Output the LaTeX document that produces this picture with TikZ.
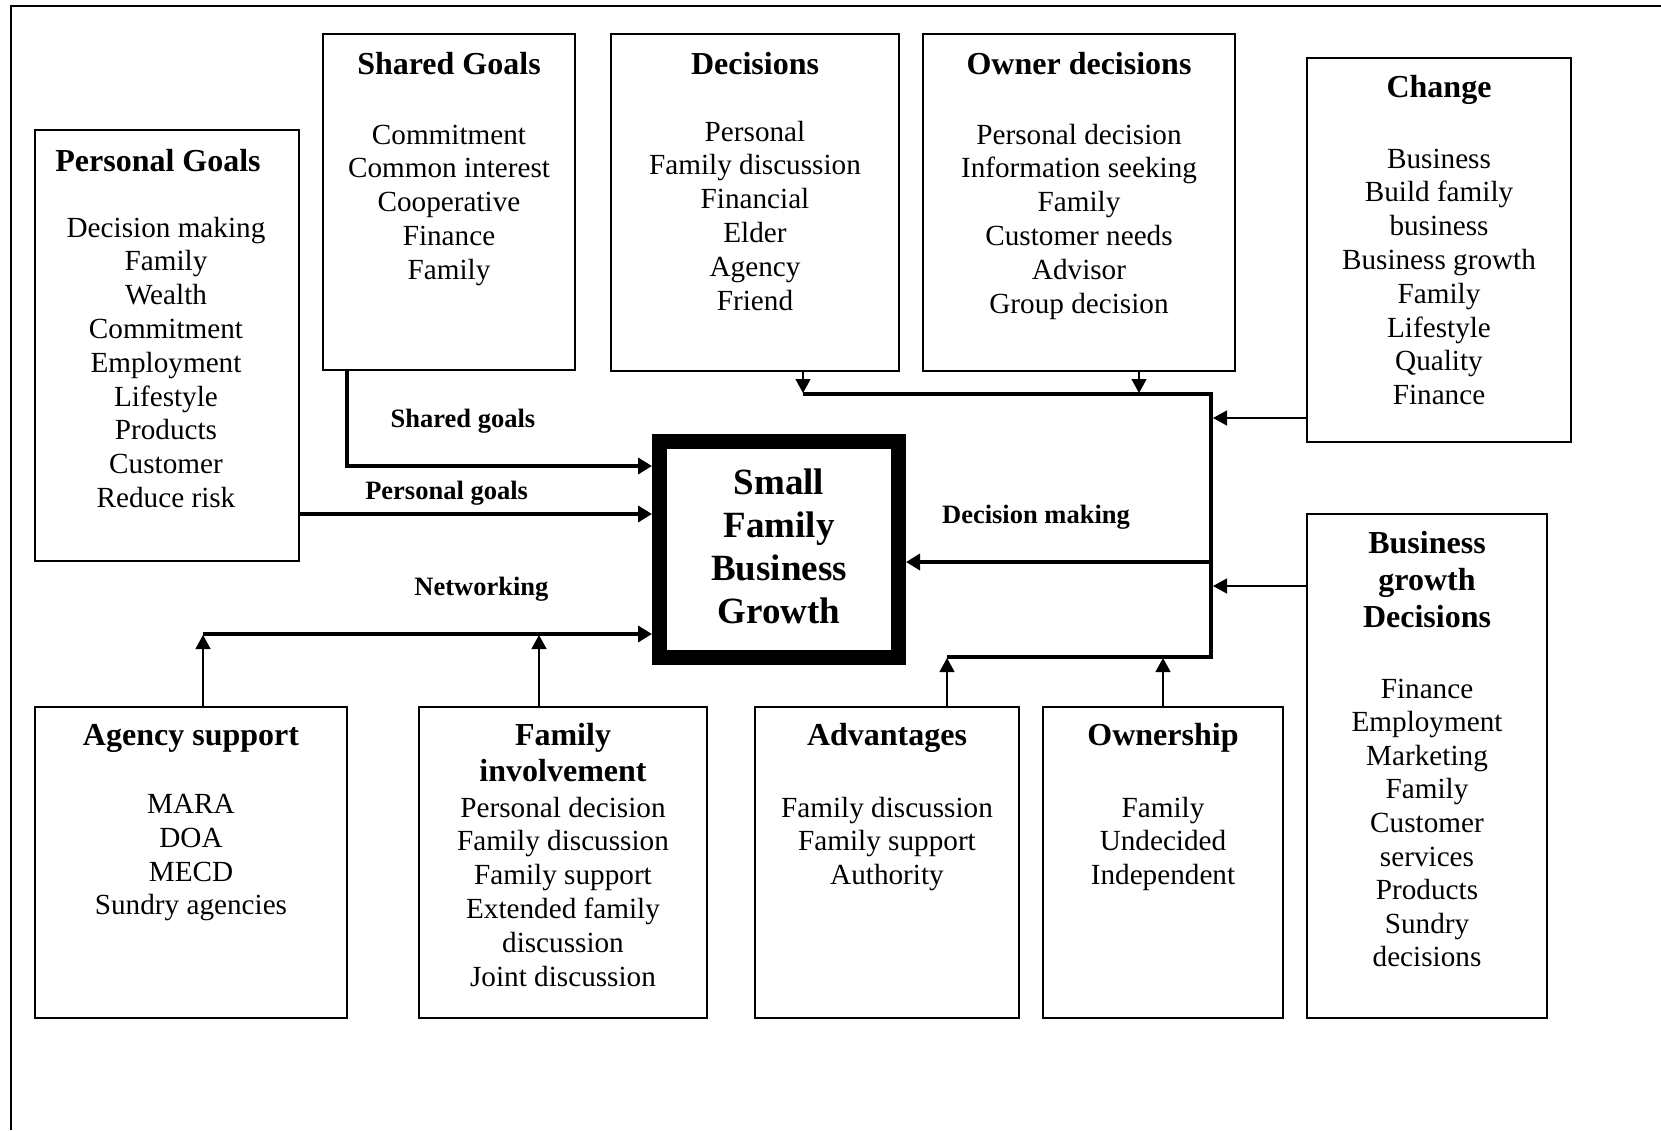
\documentclass[tikz,border=0pt]{standalone}
\usepackage{fontspec}
\setmainfont{Liberation Serif}
\usetikzlibrary{arrows.meta}
\begin{document}
\begin{tikzpicture}[x=1pt,y=-1pt,
  box/.style={draw, line width=2pt, inner sep=0pt},
  core/.style={draw, line width=15pt, inner sep=0pt},
  txt/.style={anchor=base, inner sep=0pt, font=\fontsize{29.2}{33.8}\selectfont},
  ttl/.style={anchor=base, inner sep=0pt, font=\bfseries\fontsize{32}{37}\selectfont},
  lbl/.style={anchor=base, inner sep=0pt, font=\bfseries\fontsize{26.5}{30}\selectfont},
  ctr/.style={anchor=base, inner sep=0pt, font=\bfseries\fontsize{37}{43}\selectfont},
  bus/.style={line width=4.5pt},
  busarr/.style={bus, -{Triangle[length=14pt,width=16pt]}},
  thinarr/.style={line width=1.3pt, -{Triangle[length=14pt,width=15pt]}},
  frame/.style={line width=1.7pt}]
\useasboundingbox (0,0) rectangle (1661,1130);
\draw[frame] (11,1130) -- (11,6) -- (1661,6);

% boxes
\node[box, minimum width=264pt, minimum height=431pt] (pg) at (167,345.5) {};
\node[box, minimum width=252pt, minimum height=336pt] (sg) at (449,202) {};
\node[box, minimum width=288pt, minimum height=337pt] (dec) at (755,202.5) {};
\node[box, minimum width=312pt, minimum height=337pt] (od) at (1079,202.5) {};
\node[box, minimum width=264pt, minimum height=384pt] (ch) at (1439,250) {};
\node[box, minimum width=240pt, minimum height=504pt] (bg) at (1427,766) {};
\node[box, minimum width=312pt, minimum height=311pt] (as) at (191,862.5) {};
\node[box, minimum width=288pt, minimum height=311pt] (fi) at (563,862.5) {};
\node[box, minimum width=264pt, minimum height=311pt] (adv) at (887,862.5) {};
\node[box, minimum width=240pt, minimum height=311pt] (own) at (1163,862.5) {};
\node[core, minimum width=239pt, minimum height=216pt] (cb) at (779,549.5) {};

% central text
\foreach \t [count=\i from 0] in {Small,Family,Business,Growth}
  \node[ctr] (cb-\i) at (779,{494+43*\i}) {\t};

% titles
\node[ttl] (pg-t) at (158,171) {Personal Goals};
\node[ttl] (sg-t) at (449,74.7) {Shared Goals};
\node[ttl] (dec-t) at (755,74.7) {Decisions};
\node[ttl] (od-t) at (1079,74.7) {Owner decisions};
\node[ttl] (ch-t) at (1439,97) {Change};
\node[ttl] (bg-t1) at (1427,553) {Business};
\node[ttl] (bg-t2) at (1427,590) {growth};
\node[ttl] (bg-t3) at (1427,627) {Decisions};
\node[ttl] (as-t) at (191,745) {Agency support};
\node[ttl] (fi-t1) at (563,745) {Family};
\node[ttl] (fi-t2) at (563,781) {involvement};
\node[ttl] (adv-t) at (887,745) {Advantages};
\node[ttl] (own-t) at (1163,745) {Ownership};

% body lines
\foreach \t [count=\i from 0] in {Decision making,Family,Wealth,Commitment,Employment,Lifestyle,Products,Customer,Reduce risk}
  \node[txt] (pg-\i) at (166,{237+33.8*\i}) {\t};
\foreach \t [count=\i from 0] in {Commitment,Common interest,Cooperative,Finance,Family}
  \node[txt] (sg-\i) at (449,{144+33.8*\i}) {\t};
\foreach \t [count=\i from 0] in {Personal,Family discussion,Financial,Elder,Agency,Friend}
  \node[txt] (dec-\i) at (755,{141+33.8*\i}) {\t};
\foreach \t [count=\i from 0] in {Personal decision,Information seeking,Family,Customer needs,Advisor,Group decision}
  \node[txt] (od-\i) at (1079,{144+33.8*\i}) {\t};
\foreach \t [count=\i from 0] in {Business,Build family,business,Business growth,Family,Lifestyle,Quality,Finance}
  \node[txt] (ch-\i) at (1439,{168+33.8*\i}) {\t};
\foreach \t [count=\i from 0] in {Finance,Employment,Marketing,Family,Customer,services,Products,Sundry,decisions}
  \node[txt] (bg-\i) at (1427,{698+33.6*\i}) {\t};
\foreach \t [count=\i from 0] in {MARA,DOA,MECD,Sundry agencies}
  \node[txt] (as-\i) at (191,{813.5+33.8*\i}) {\t};
\foreach \t [count=\i from 0] in {Personal decision,Family discussion,Family support,Extended family,discussion,Joint discussion}
  \node[txt] (fi-\i) at (563,{817+33.8*\i}) {\t};
\foreach \t [count=\i from 0] in {Family discussion,Family support,Authority}
  \node[txt] (adv-\i) at (887,{817+33.8*\i}) {\t};
\foreach \t [count=\i from 0] in {Family,Undecided,Independent}
  \node[txt] (own-\i) at (1163,{817+33.8*\i}) {\t};

% connector labels
\node[lbl] (l-sg) at (463,427) {Shared goals};
\node[lbl] (l-pg) at (446.6,499) {Personal goals};
\node[lbl] (l-nw) at (481.4,595) {Networking};
\node[lbl] (l-dm) at (1036,523) {Decision making};

% left-hand connectors
\draw[busarr] (sg.south -| 347,0) |- (cb.west |- 0,466);
\draw[busarr] (pg.east |- 0,514) -- (cb.west |- 0,514);
\coordinate (nA) at (203,634);
\coordinate (nB) at (539,634);
\draw[busarr] (nA) -- (cb.west |- nA);
\draw[thinarr] (as.north -| nA) -- ([yshift=-1pt]nA);
\draw[thinarr] (fi.north -| nB) -- ([yshift=-1pt]nB);

% decision bus
\coordinate (dA) at (803,394);
\coordinate (dB) at (1139,394);
\coordinate (dC) at (1211,394);
\coordinate (dD) at (1211,418);
\coordinate (dE) at (1211,562);
\coordinate (dF) at (1211,586);
\coordinate (dG) at (1211,657);
\coordinate (dH) at (1163,657);
\coordinate (dI) at (947,657);
\draw[bus] (dA) -- (dC) -- (dG) -- (dI);
\draw[busarr] (dE) -- (cb.east |- dE);
\draw[thinarr] (dec.south -| dA) -- ([yshift=1pt]dA);
\draw[thinarr] (od.south -| dB) -- ([yshift=1pt]dB);
\draw[thinarr] (ch.west |- dD) -- ([xshift=2pt]dD);
\draw[thinarr] (bg.west |- dF) -- ([xshift=2pt]dF);
\draw[thinarr] (adv.north -| dI) -- ([yshift=-1pt]dI);
\draw[thinarr] (own.north -| dH) -- ([yshift=-1pt]dH);
\end{tikzpicture}
\end{document}
